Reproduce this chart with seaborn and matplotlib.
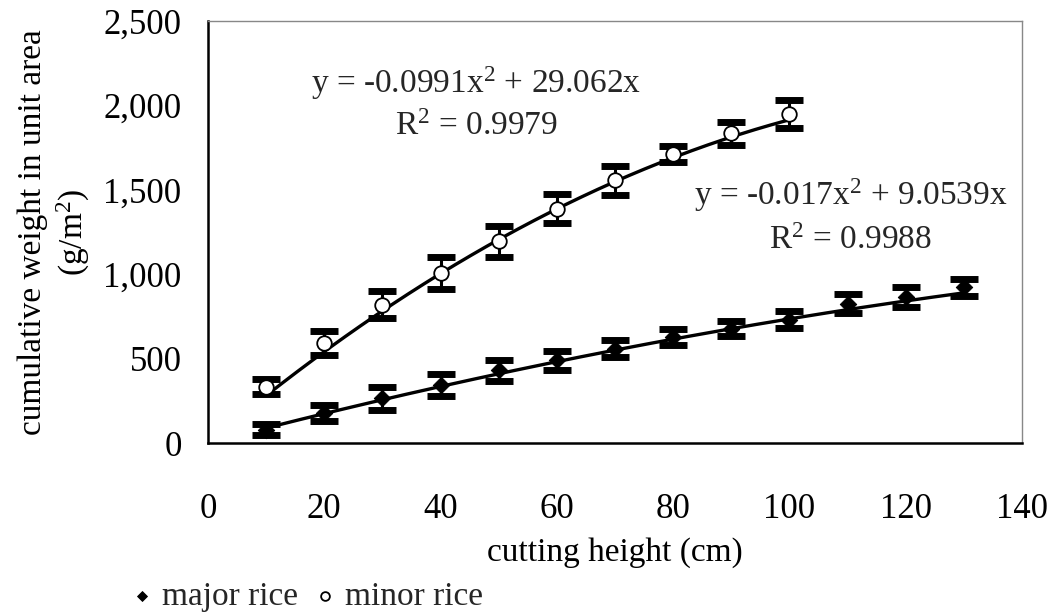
import numpy as np
import pandas as pd
import matplotlib
matplotlib.use("Agg")
import matplotlib.pyplot as plt
import seaborn as sns

# -----------------------------
# Data
# -----------------------------
major_x = [10, 20, 30, 40, 50, 60, 70, 80, 90, 100, 110, 120, 130]
major_y = [80, 178, 264, 343, 430, 490, 558, 628, 678, 731, 825, 865, 922]
major_err = [30, 50, 70, 63, 63, 55, 50, 50, 45, 50, 55, 60, 50]

minor_x = [10, 20, 30, 40, 50, 60, 70, 80, 90, 100]
minor_y = [333, 593, 818, 1005, 1194, 1389, 1556, 1712, 1834, 1950]
minor_err = [45, 70, 80, 95, 90, 85, 85, 50, 70, 85]

# trendline coefficients (a*x^2 + b*x) as printed on the chart
major_coef = [-0.017, 9.0539]
minor_coef = [-0.0991, 29.062]
major_label = ["y = -0.017x$^2$ + 9.0539x", "R$^2$ = 0.9988"]
minor_label = ["y = -0.0991x$^2$ + 29.062x", "R$^2$ = 0.9979"]

x_ticks = [0, 20, 40, 60, 80, 100, 120, 140]
y_ticks = [0, 500, 1000, 1500, 2000, 2500]

# -----------------------------
# Style
# -----------------------------
sns.set_theme(style="white")
plt.rcParams["font.family"] = ["Liberation Serif", "DejaVu Serif"]
plt.rcParams["mathtext.fontset"] = "custom"
plt.rcParams["mathtext.rm"] = "Liberation Serif"
plt.rcParams["mathtext.it"] = "Liberation Serif"

fig = plt.figure(figsize=(10.52, 6.12), dpi=100)
ax = fig.add_axes([0.1977, 0.2761, 0.7738, 0.6895])

major = pd.DataFrame({"x": major_x, "y": major_y, "err": major_err})
minor = pd.DataFrame({"x": minor_x, "y": minor_y, "err": minor_err})


def trend(coef, xmin, xmax):
    xs = np.linspace(xmin, xmax, 200)
    return pd.DataFrame({"x": xs, "y": coef[0] * xs ** 2 + coef[1] * xs})


# trend lines
for coef, df in [(minor_coef, minor), (major_coef, major)]:
    t = trend(coef, df["x"].min(), df["x"].max())
    sns.lineplot(data=t, x="x", y="y", color="black", linewidth=2.4, ax=ax, zorder=2)

# error bars
for df in [minor, major]:
    ax.errorbar(df["x"], df["y"], yerr=df["err"], fmt="none", ecolor="black",
                elinewidth=2.2, capsize=10, capthick=5, zorder=3)

# points
sns.scatterplot(data=major, x="x", y="y", marker="D", s=70, color="black",
                edgecolor="black", ax=ax, zorder=4, label="major rice")
sns.scatterplot(data=minor, x="x", y="y", marker="o", s=110, color="white",
                edgecolor="black", linewidth=1.3, ax=ax, zorder=4, label="minor rice")

# -----------------------------
# Axes
# -----------------------------
ax.set_xlim(0, 140)
ax.set_ylim(0, 2500)
ax.set_xticks(x_ticks)
ax.set_yticks(y_ticks)
ax.set_yticklabels([f"{v:,}" for v in y_ticks])
ax.tick_params(axis="both", direction="out", length=9, width=1.5,
               labelsize=25, colors="black")
ax.tick_params(axis="y", pad=10)
ax.tick_params(axis="x", pad=27)

for side in ["left", "bottom"]:
    ax.spines[side].set_color("black")
    ax.spines[side].set_linewidth(1.8)
for side in ["top", "right"]:
    ax.spines[side].set_color("#888888")
    ax.spines[side].set_linewidth(1.0)
    ax.spines[side].set_linestyle((0, (4, 1)))

ax.set_xlabel("cutting height (cm)", fontsize=24, color="black", labelpad=8)
ax.set_ylabel("cumulative weight in unit area\n(g/m$^2$)", fontsize=24,
              color="black", linespacing=1.25)
ax.yaxis.set_label_coords(-0.142, 0.5)

# equations
ax.text(46.1, 2075, minor_label[0], fontsize=24, ha="center", va="baseline")
ax.text(46.1, 1822, minor_label[1], fontsize=24, ha="center", va="baseline")
ax.text(110.5, 1410, major_label[0], fontsize=24, ha="center", va="baseline")
ax.text(110.5, 1150, major_label[1], fontsize=24, ha="center", va="baseline")

# legend below the plot
handles, labels = ax.get_legend_handles_labels()
ax.get_legend().remove()
fig.legend(handles, labels, loc="center left", bbox_to_anchor=(0.1, 0.025),
           ncol=2, frameon=False, fontsize=24, handletextpad=0.0,
           columnspacing=0.2, markerscale=0.6, handlelength=1.2,
           borderpad=0.0)

fig.savefig("out.png", dpi=100)
